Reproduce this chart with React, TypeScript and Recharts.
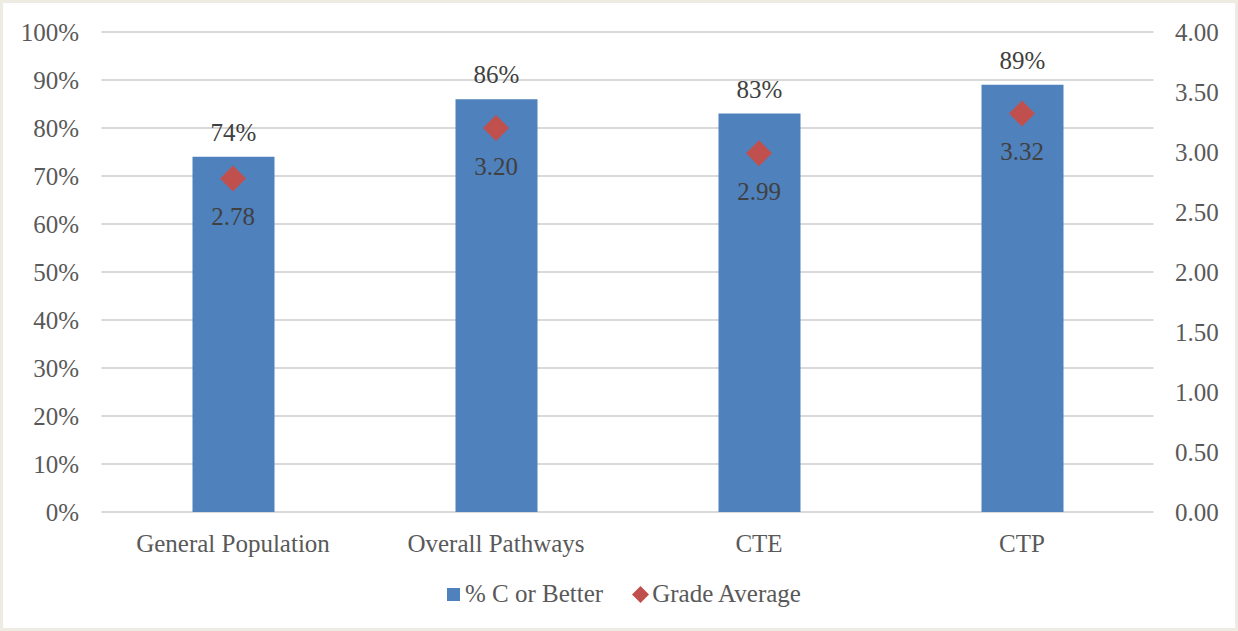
import { ComposedChart, Bar, Line, XAxis, YAxis, CartesianGrid, LabelList } from 'recharts';

const categories = ['General Population', 'Overall Pathways', 'CTE', 'CTP'];
const pctCOrBetter = [0.74, 0.86, 0.83, 0.89];
const gradeAverage = [2.78, 3.2, 2.99, 3.32];
const leftTicks = [0, 0.1, 0.2, 0.3, 0.4, 0.5, 0.6, 0.7, 0.8, 0.9, 1];
const rightTicks = [0, 0.5, 1, 1.5, 2, 2.5, 3, 3.5, 4];

const data = categories.map((name, i) => ({
  name,
  pct: pctCOrBetter[i],
  grade: gradeAverage[i],
}));

const FONT = '"Liberation Serif", serif';
const BLUE = '#4f81bd';
const RED = '#c0504d';

const Diamond = (props: any) => {
  const { cx, cy } = props;
  if (cx == null || cy == null) return null;
  const r = 13;
  return (
    <path
      d={`M${cx},${cy - r} L${cx + r},${cy} L${cx},${cy + r} L${cx - r},${cy} Z`}
      fill={RED}
    />
  );
};

const App = () => {
  return (
    <div style={{ position: 'relative', width: 1238, height: 631, background: '#fff', fontFamily: FONT }}>
      <style>{`body{margin:0}`}</style>
      <div style={{ position: 'absolute', left: 0, top: 0 }}>
        <ComposedChart
          width={1238}
          height={560}
          data={data}
          margin={{ top: 32, right: 0, bottom: 0, left: 0 }}
          barCategoryGap="34%"
        >
          <CartesianGrid yAxisId="left" vertical={false} stroke="#d9d9d9" strokeWidth={2} />
          <XAxis
            dataKey="name"
            axisLine={false}
            tickLine={false}
            tickSize={0}
            tickMargin={22}
            height={48}
            tick={{ fill: '#595959', fontSize: 25, fontFamily: FONT }}
          />
          <YAxis
            yAxisId="left"
            domain={[0, 1]}
            ticks={leftTicks}
            width={101.5}
            axisLine={false}
            tickLine={false}
            tickSize={0}
            tickMargin={22.5}
            tickFormatter={(v: number) => `${Math.round(v * 100)}%`}
            tick={{ fill: '#595959', fontSize: 25, fontFamily: FONT }}
          />
          <YAxis
            yAxisId="right"
            orientation="right"
            domain={[0, 4]}
            ticks={rightTicks}
            width={84.5}
            axisLine={false}
            tickLine={false}
            tickSize={0}
            tickMargin={21.5}
            tickFormatter={(v: number) => v.toFixed(2)}
            tick={{ fill: '#595959', fontSize: 25, fontFamily: FONT }}
          />
          <Bar yAxisId="left" dataKey="pct" fill={BLUE} barSize={82} isAnimationActive={false}>
            <LabelList
              dataKey="pct"
              position="top"
              offset={16}
              formatter={(v: any) => `${Math.round(v * 100)}%`}
              style={{ fill: '#404040', fontSize: 25, fontFamily: FONT }}
            />
          </Bar>
          <Line
            yAxisId="right"
            dataKey="grade"
            stroke="none"
            dot={<Diamond />}
            activeDot={false}
            isAnimationActive={false}
          >
            <LabelList
              dataKey="grade"
              position="bottom"
              offset={29}
              formatter={(v: any) => Number(v).toFixed(2)}
              style={{ fill: '#404040', fontSize: 25, fontFamily: FONT }}
            />
          </Line>
        </ComposedChart>
      </div>
      <div
        style={{
          position: 'absolute',
          left: 447,
          top: 579,
          display: 'flex',
          alignItems: 'center',
          fontSize: 25,
          color: '#595959',
          lineHeight: '30px',
        }}
      >
        <span style={{ display: 'inline-block', width: 13, height: 13, background: BLUE, marginRight: 5 }} />
        <span>% C or Better</span>
        <svg width={17} height={17} style={{ marginLeft: 29, marginRight: 3 }}>
          <path d="M8.5,0 L17,8.5 L8.5,17 L0,8.5 Z" fill={RED} />
        </svg>
        <span>Grade Average</span>
      </div>
      <div
        style={{
          position: 'absolute',
          inset: 0,
          border: '3px solid #eeebe2',
          pointerEvents: 'none',
        }}
      />
    </div>
  );
};

export default App;
